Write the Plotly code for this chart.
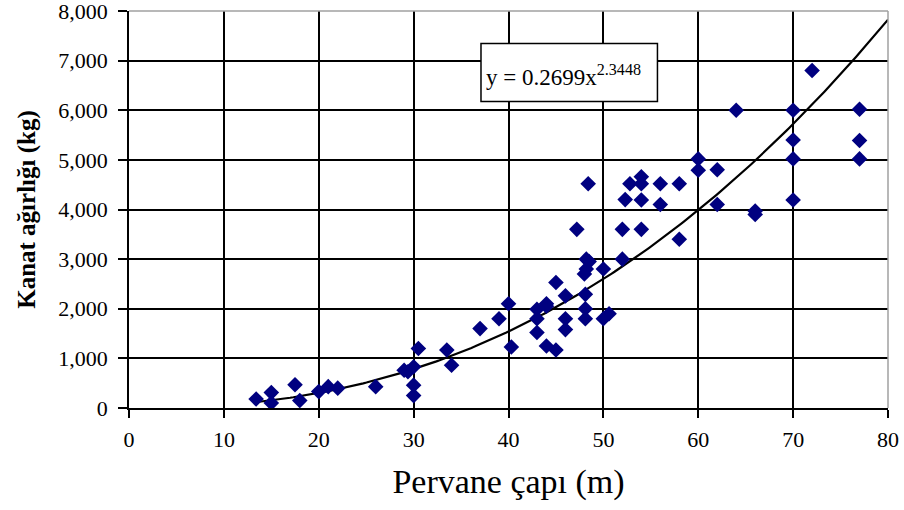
import plotly.graph_objects as go
import numpy as np

# Data
diameter_m = [13.4, 15, 15, 17.5, 18, 20, 21, 22, 26, 29, 29.4, 30, 30, 30, 30.5, 33.5, 34,
              37, 39, 40, 40.3, 43, 43, 43, 44, 44, 44, 45, 45, 46, 46, 46, 47.2, 48.4,
              48.2, 48.5, 48.2, 48, 48.1, 48.1, 48.1, 50, 50, 50.6,
              52, 52, 52.3, 52.8, 54, 54, 54, 54, 56, 56, 58, 58,
              60, 60, 62, 62, 64, 66, 66, 70, 70, 70, 70, 72, 77, 77, 77]
blade_kg = [180, 310, 100, 470, 150, 330, 430, 400, 430, 760, 730, 830, 460, 250, 1200, 1170, 860,
            1600, 1800, 2100, 1230, 1990, 1800, 1520, 2100, 2050, 1250, 2530, 1170, 2260, 1800, 1580, 3600, 4520,
            3000, 2950, 2800, 2700, 2290, 2000, 1800, 2800, 1800, 1900,
            3000, 3600, 4200, 4520, 4660, 4520, 4190, 3600, 4520, 4100, 4520, 3400,
            5020, 4790, 4800, 4100, 6000, 3970, 3900, 6000, 5400, 5020, 4190, 6800, 6020, 5390, 5020]

# Trendline from the equation shown on the chart
coef_a = 0.2699
coef_b = 2.3448
trend_x = np.linspace(13.3, 80, 200)
trend_y = coef_a * trend_x ** coef_b

x_ticks = list(range(0, 81, 10))
y_ticks = list(range(0, 8001, 1000))

fig = go.Figure()
fig.add_trace(go.Scatter(x=trend_x, y=trend_y, mode="lines",
                         line=dict(color="black", width=2.2), hoverinfo="skip"))
fig.add_trace(go.Scatter(x=diameter_m, y=blade_kg, mode="markers",
                         marker=dict(symbol="diamond", size=12, color="#000080")))

serif = "Liberation Serif, Times New Roman, serif"
fig.update_layout(
    width=904, height=510,
    margin=dict(l=129, r=16, t=11, b=102),
    paper_bgcolor="white", plot_bgcolor="white",
    showlegend=False,
    font=dict(family=serif, color="black"),
    xaxis=dict(range=[0, 80], tickvals=x_ticks, showgrid=True, gridcolor="black", gridwidth=1.5,
               showline=True, linecolor="black", linewidth=1.5, ticks="outside", ticklen=8,
               tickcolor="black", tickwidth=1.5, tickfont=dict(size=22, family=serif),
               zeroline=False, ticklabelstandoff=3, automargin=False, ticklabeloverflow="allow",
               title=dict(text="Pervane çapı (m)", font=dict(size=34, family=serif), standoff=18)),
    yaxis=dict(range=[0, 8000], tickvals=y_ticks, tickformat=",d", showgrid=True, gridcolor="black",
               gridwidth=1.5, showline=True, linecolor="black", linewidth=1.5, ticks="outside",
               ticklen=9, tickcolor="black", tickwidth=1.5, tickfont=dict(size=22, family=serif),
               zeroline=False, ticklabelstandoff=6, automargin=False, ticklabeloverflow="allow",
               title=dict(text="<b>Kanat ağırlığı (kg)</b>", font=dict(size=25, family=serif), standoff=16)),
)

# light gray top and right frame
fig.add_shape(type="line", xref="paper", yref="paper", x0=0, x1=1, y0=1, y1=1,
              line=dict(color="#a0a0a0", width=1.5), layer="above")
fig.add_shape(type="line", xref="paper", yref="paper", x0=1, x1=1, y0=0, y1=1,
              line=dict(color="#a0a0a0", width=1.5), layer="above")

# equation box
fig.add_shape(type="rect", xref="x", yref="y", x0=37.1, x1=55.7, y0=6177, y1=7344,
              fillcolor="white", line=dict(color="black", width=1.5), layer="above")
fig.add_annotation(x=37.4, y=6700, xref="x", yref="y", xanchor="left", yanchor="middle",
                   text="y = 0.2699x<sup>2.3448</sup>", showarrow=False,
                   font=dict(size=23, family=serif, color="black"))

fig.write_html("out.html", config={"displayModeBar": False},
               post_script="document.body.style.margin='0';")
